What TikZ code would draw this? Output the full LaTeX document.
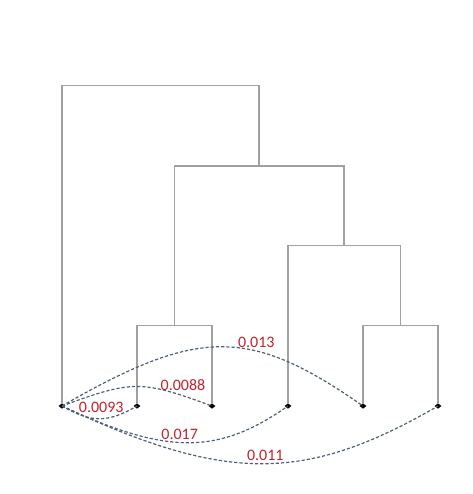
\documentclass[tikz,border=0pt]{standalone}
\usepackage{fontspec}
\setmainfont{Carlito}
\usetikzlibrary{shapes.geometric}
\definecolor{treegray}{RGB}{160,160,160}
\definecolor{dashblue}{RGB}{78,96,120}
\definecolor{labred}{RGB}{192,36,44}
\tikzset{
  leaf/.style={diamond, fill=black, inner sep=0pt, minimum width=7pt, minimum height=5.5pt},
  tree/.style={draw=treegray, line width=1.1pt},
  link/.style={draw=dashblue, line width=1.2pt, dash pattern=on 3.2pt off 2pt},
  wt/.style={text=labred, font=\fontsize{16}{18}\selectfont, inner sep=0pt}
}
\begin{document}
\begin{tikzpicture}[x=1pt,y=-1pt]
\useasboundingbox (0,0) rectangle (472,494);
% leaves
\node[leaf] (L1) at (62,406) {};
\node[leaf] (L2) at (137,406) {};
\node[leaf] (L3) at (212,406) {};
\node[leaf] (L4) at (288,406) {};
\node[leaf] (L5) at (363,406) {};
\node[leaf] (L6) at (438,406) {};
% internal merge points
\coordinate (a) at (174.7,325.7);
\coordinate (b) at (400.5,325.7);
\coordinate (c) at (344,245.7);
\coordinate (d) at (259,166);
\coordinate (r) at (259,85.7);
% dendrogram
\draw[tree] (L2) |- (a) -| (L3);
\draw[tree] (L5) |- (b) -| (L6);
\draw[tree] (L4) |- (c) -| (b);
\draw[tree] (a) |- (d) -| (c);
\draw[tree] (L1) |- (r) -- (d);
% dashed links
\draw[link] (L1.center) .. controls (199,327) and (250,327) .. (L5.center);
\draw[link] (L1.center) .. controls (132.5,380) and (141.5,380) .. (L3.center);
\draw[link] (L1.center) .. controls (91.5,423) and (107.5,423) .. (L2.center);
\draw[link] (L1.center) .. controls (167,455) and (218,455) .. (L4.center);
\draw[link] (L1.center) .. controls (226,483) and (305,483) .. (L6.center);
% labels
\node[wt] (w1) at (256.3,342) {0.013};
\node[wt] (w2) at (183,385) {0.0088};
\node[wt] (w3) at (101.2,407.5) {0.0093};
\node[wt] (w4) at (179.7,434) {0.017};
\node[wt] (w5) at (265.3,455) {0.011};
\end{tikzpicture}
\end{document}
